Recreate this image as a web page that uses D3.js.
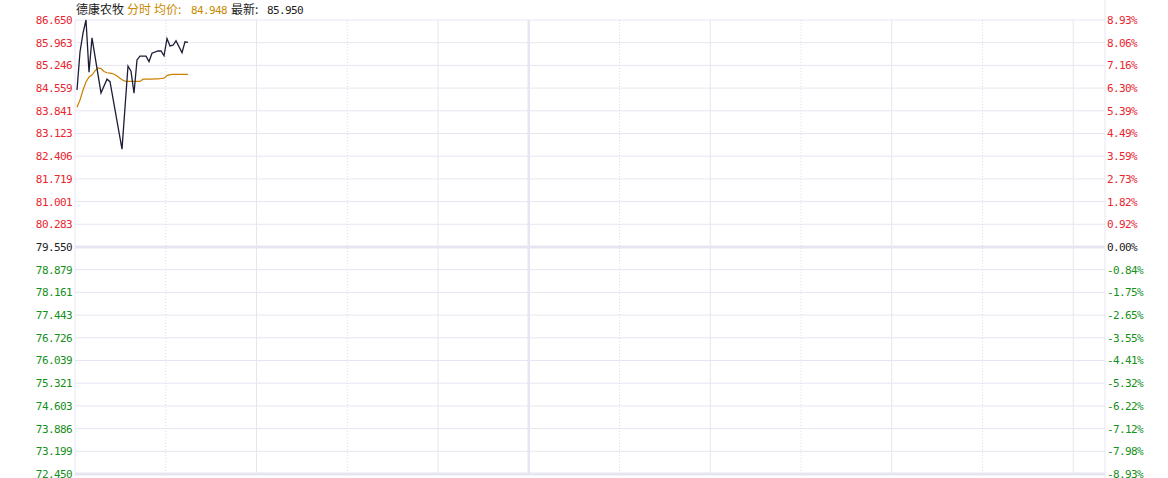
<!DOCTYPE html>
<html>
<head>
<meta charset="utf-8">
<script src="https://cdn.jsdelivr.net/npm/d3@7"></script>
<style>
  body { margin: 0; background: #fff; }
  svg { display: block; }
  .num { font-family: "DejaVu Sans Mono", "Liberation Mono", monospace; font-size: 11px; letter-spacing: -0.6px; }
  .cjk { font-family: "Noto Sans CJK SC", sans-serif; font-size: 12px; }
</style>
</head>
<body>
<div id="chart"></div>
<script>
// stock + header values
const stockName = "德康农牧";
const avgPrice = "84.948";
const lastPrice = "85.950";
const prevClose = 79.55;
const priceMax = 86.65;
const priceMin = 72.45;

// y axis labels (top to bottom)
const priceLabels = ["86.650", "85.963", "85.246", "84.559", "83.841", "83.123", "82.406",
    "81.719", "81.001", "80.283", "79.550", "78.879", "78.161", "77.443", "76.726",
    "76.039", "75.321", "74.603", "73.886", "73.199", "72.450"];
const pctLabels = ["8.93%", "8.06%", "7.16%", "6.30%", "5.39%", "4.49%", "3.59%", "2.73%",
    "1.82%", "0.92%", "0.00%", "-0.84%", "-1.75%", "-2.65%", "-3.55%", "-4.41%",
    "-5.32%", "-6.22%", "-7.12%", "-7.98%", "-8.93%"];

// minute index of price line vertices
const priceIdx = [0, 1, 2, 3, 4, 5, 8, 10, 11, 15, 17, 18, 19, 20, 21, 23, 24, 25, 27, 28,
    29, 30, 31, 32, 33, 35, 36, 37];
const priceVals = [84.46, 85.65, 86.24, 86.65, 85.02, 86.09, 84.37, 84.80, 84.72, 82.61,
    85.21, 85.05, 84.36, 85.40, 85.52, 85.52, 85.35, 85.61, 85.68, 85.68,
    85.53, 86.07, 85.84, 85.86, 86.00, 85.63, 85.97, 85.95];

// average price line, one value per minute
const avgVals = [83.92, 84.15, 84.46, 84.71, 84.87, 84.93, 85.06, 85.15, 85.13, 85.04,
    85.00, 84.99, 84.97, 84.92, 84.85, 84.78, 84.74, 84.73, 84.73, 84.73,
    84.73, 84.73, 84.80, 84.80, 84.80, 84.80, 84.81, 84.81, 84.82, 84.83,
    84.91, 84.94, 84.95, 84.95, 84.95, 84.95, 84.95, 84.948];

// vertical grid columns
const gridCols = d3.range(0, 13);

const W = 1168, H = 478;
const plotL = 75, plotR = 1105, plotT = 20, plotB = 474;

const svg = d3.select("#chart").append("svg")
    .attr("width", W).attr("height", H);

const y = d3.scaleLinear().domain([priceMin, priceMax]).range([plotB, plotT]);
const x = d3.scaleLinear().domain([0, 343]).range([77, 77 + 343 * 3]);
const col = d3.scaleLinear().domain([0, 12]).range([plotL, plotL + 12 * 90.75]);
const row = d3.scaleLinear().domain([0, priceLabels.length - 1]).range([priceMax, priceMin]);

const gridColor = "#e6e6f2";
const upColor = "#e8262f";
const downColor = "#15901a";
const flatColor = "#222";

// horizontal grid
svg.append("g").selectAll("line")
    .data(priceLabels)
    .join("line")
    .attr("x1", plotL).attr("x2", plotR)
    .attr("y1", (d, i) => y(row(i)))
    .attr("y2", (d, i) => y(row(i)))
    .attr("stroke", gridColor)
    .attr("stroke-width", (d, i) => (i === 10 ? 3 : (i === priceLabels.length - 1 ? 3 : 1)));

// vertical grid
const isDotted = k => (k < 5 ? k % 2 === 1 : (k - 5) % 2 === 1);
svg.append("g").selectAll("line")
    .data(gridCols.filter(k => k > 0 && col(k) < plotR))
    .join("line")
    .attr("x1", k => col(k)).attr("x2", k => col(k))
    .attr("y1", plotT).attr("y2", plotB)
    .attr("stroke", k => (isDotted(k) ? "#dcdce8" : gridColor))
    .attr("stroke-dasharray", k => (isDotted(k) ? "1,2" : null))
    .attr("stroke-width", k => (k === 5 ? 2.5 : 1));

// borders
svg.append("line")
    .attr("x1", plotL).attr("x2", plotL).attr("y1", plotT).attr("y2", plotB + 2)
    .attr("stroke", gridColor);
svg.append("line")
    .attr("x1", plotR).attr("x2", plotR).attr("y1", 0).attr("y2", H)
    .attr("stroke", gridColor);

// left labels
svg.append("g").selectAll("text")
    .data(priceLabels)
    .join("text")
    .attr("class", "num")
    .attr("x", 72)
    .attr("y", (d, i) => y(row(i)))
    .attr("dy", "0.36em")
    .attr("text-anchor", "end")
    .attr("fill", (d, i) => (i < 10 ? upColor : (i > 10 ? downColor : flatColor)))
    .text(d => d);

// right labels
svg.append("g").selectAll("text")
    .data(pctLabels)
    .join("text")
    .attr("class", "num")
    .attr("x", 1107)
    .attr("y", (d, i) => y(row(i)))
    .attr("dy", "0.36em")
    .attr("fill", (d, i) => (i < 10 ? upColor : (i > 10 ? downColor : flatColor)))
    .text(d => d);

// average line
const avgLine = d3.line()
    .x((d, i) => x(i))
    .y(d => y(d));
svg.append("path")
    .datum(avgVals)
    .attr("d", avgLine)
    .attr("fill", "none")
    .attr("stroke", "#cc8000")
    .attr("stroke-width", 1.2);

// price line
const priceLine = d3.line()
    .x((d, i) => x(priceIdx[i]))
    .y(d => y(d));
svg.append("path")
    .datum(priceVals)
    .attr("d", priceLine)
    .attr("fill", "none")
    .attr("stroke", "#1c1c38")
    .attr("stroke-width", 1.3);

// header
const head = svg.append("g");
head.append("text").attr("class", "cjk").attr("x", 76).attr("y", 14)
    .attr("fill", "#222").text(stockName);
head.append("text").attr("class", "cjk").attr("x", 127).attr("y", 14)
    .attr("fill", "#c98a00").text("分时");
head.append("text").attr("class", "cjk").attr("x", 154).attr("y", 14)
    .attr("fill", "#c98a00").text("均价:");
head.append("text").attr("class", "num").attr("x", 191).attr("y", 14)
    .attr("fill", "#c98a00").text(avgPrice);
head.append("text").attr("class", "cjk").attr("x", 231).attr("y", 14)
    .attr("fill", "#222").text("最新:");
head.append("text").attr("class", "num").attr("x", 267).attr("y", 14)
    .attr("fill", "#222").text(lastPrice);
</script>
</body>
</html>
